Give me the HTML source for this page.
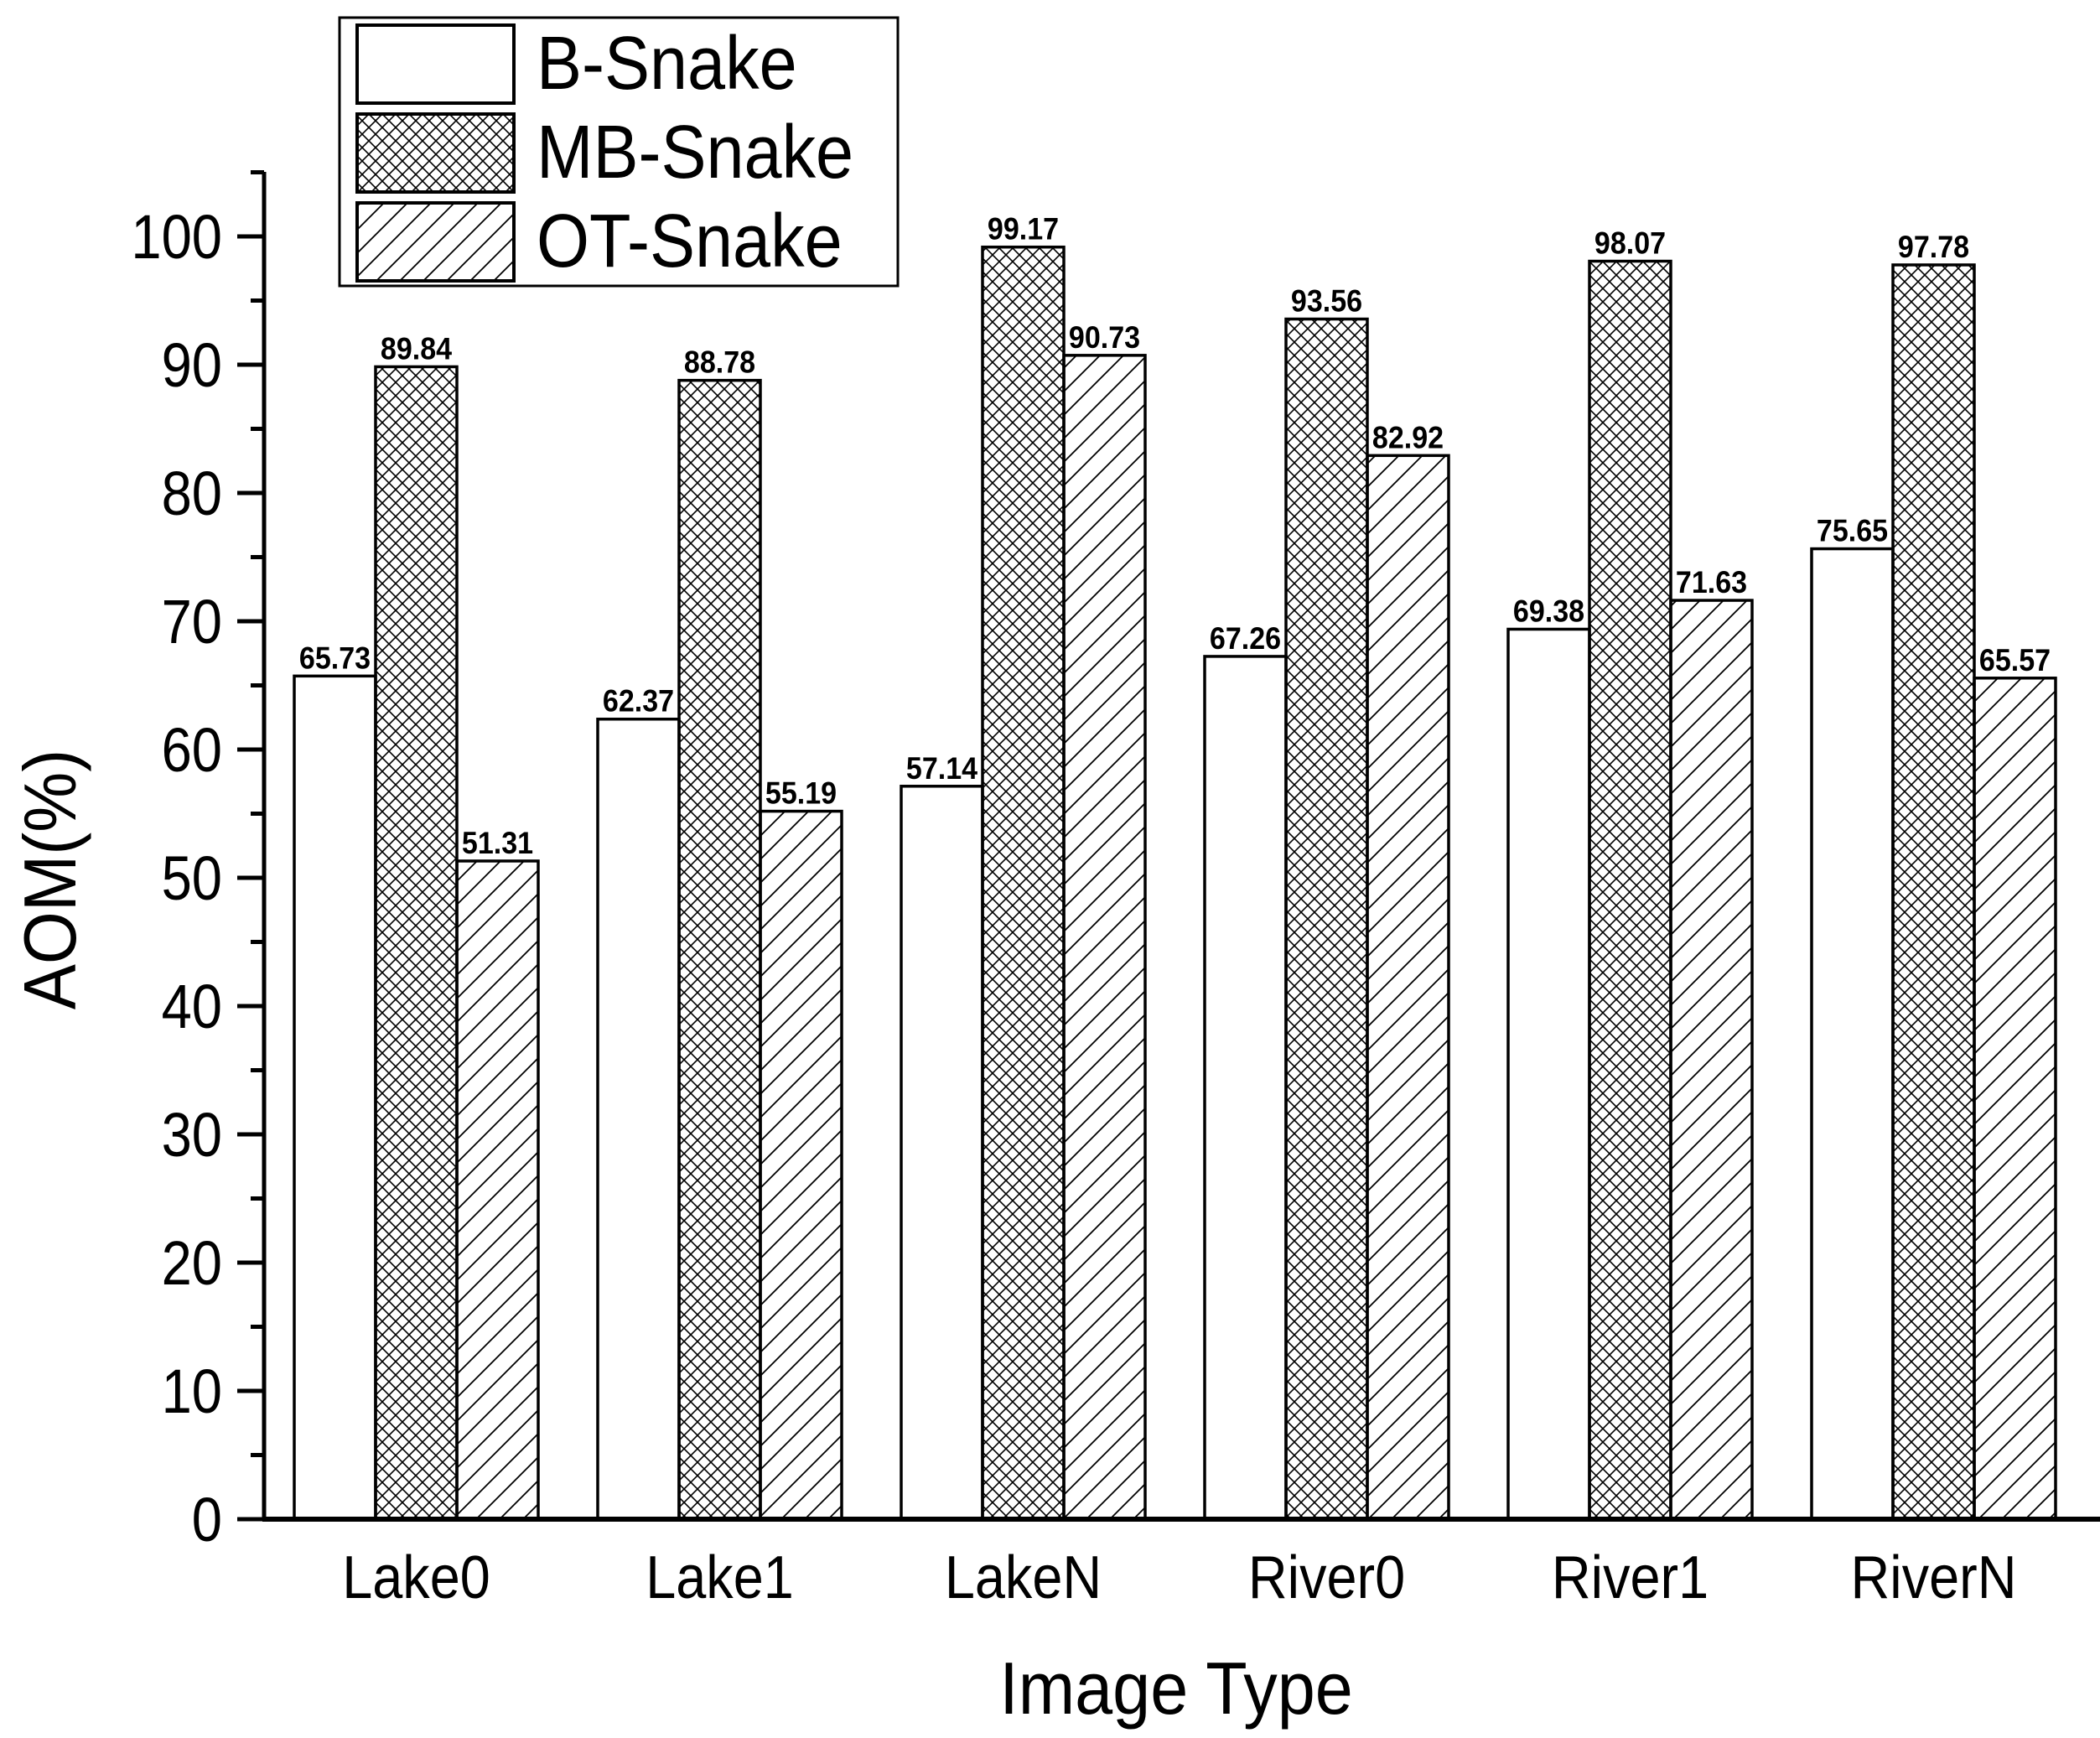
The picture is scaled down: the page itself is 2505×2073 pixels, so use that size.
<!DOCTYPE html>
<html><head><meta charset="utf-8"><style>
html,body{margin:0;padding:0;background:#fff}
svg{display:block;font-family:"Liberation Sans",Arial,sans-serif}
</style></head><body>
<svg id="chart" width="2505" height="2073" viewBox="0 0 2505 2073">
<defs>
<pattern id="cross" patternUnits="userSpaceOnUse" width="16" height="16">
<path d="M0,0 L16,16 M16,0 L0,16" stroke="#000" stroke-width="1.6"/>
</pattern>
<pattern id="diag" patternUnits="userSpaceOnUse" width="28" height="28">
<path d="M-7,7 L7,-7 M0,28 L28,0 M21,35 L35,21" stroke="#000" stroke-width="1.8"/>
</pattern>
</defs>
<g id="plot"></g>
<g>
<rect x="405" y="21" width="666" height="320" fill="#fff" stroke="#000" stroke-width="3"/>
<rect x="426" y="30" width="187" height="93" fill="#fff" stroke="#000" stroke-width="4"/>
<rect x="426" y="136" width="187" height="93" fill="url(#cross)" stroke="#000" stroke-width="4"/>
<rect x="426" y="242" width="187" height="93" fill="url(#diag)" stroke="#000" stroke-width="4"/>
<text transform="translate(640,106) scale(0.9,1)" font-size="90">B-Snake</text>
<text transform="translate(640,212) scale(0.9,1)" font-size="90">MB-Snake</text>
<text transform="translate(640,318) scale(0.9,1)" font-size="90">OT-Snake</text>
</g>
<text transform="translate(1403,2044) scale(0.92,1)" font-size="88" text-anchor="middle">Image Type</text>
<text transform="translate(90,1049) rotate(-90) scale(0.92,1)" font-size="88" text-anchor="middle">AOM(%)</text>
</svg>
<script>
const categories = ["Lake0","Lake1","LakeN","River0","River1","RiverN"];
const bSnake = [65.73,62.37,57.14,67.26,69.38,75.65];
const mbSnake = [89.84,88.78,99.17,93.56,98.07,97.78];
const otSnake = [51.31,55.19,90.73,82.92,71.63,65.57];
const yTicks = [0,10,20,30,40,50,60,70,80,90,100];

const NS = "http://www.w3.org/2000/svg";
const g = document.getElementById("plot");
const X0 = 315, YZERO = 1812, YPER = (1812 - 282) / 100;
const GROUP0 = 496.5, GSTEP = 362, BW = 97;
function y(v){ return YZERO - v * YPER; }
function gx(i){ return GROUP0 + i * GSTEP; }
function mk(tag, attrs){ const e = document.createElementNS(NS, tag); for (const k in attrs) e.setAttribute(k, attrs[k]); g.appendChild(e); return e; }

const series = [
  {vals: bSnake, fill: "#fff", name: "b-snake"},
  {vals: mbSnake, fill: "url(#cross)", name: "mb-snake"},
  {vals: otSnake, fill: "url(#diag)", name: "ot-snake"}
];
categories.forEach((c, i) => {
  series.forEach((s, j) => {
    const v = s.vals[i];
    const left = gx(i) - 1.5 * BW + j * BW;
    const r = mk("rect", {x: left, y: y(v), width: BW, height: YZERO - y(v), fill: s.fill, stroke: "#000", "stroke-width": 3.5});
    
    
    const t = mk("text", {transform: "translate(" + (left + BW / 2) + "," + (y(v) - 9) + ") scale(0.92,1)", "font-size": 37, "font-weight": "bold", "text-anchor": "middle"});
    t.textContent = v.toFixed(2);
    
    
  });
  const cl = mk("text", {transform: "translate(" + gx(i) + ",1906) scale(0.9,1)", "font-size": 72, "text-anchor": "middle"});
  cl.textContent = c;
  
  
});

const ya = mk("line", {x1: X0, y1: 205, x2: X0, y2: YZERO, stroke: "#000", "stroke-width": 5});


const xa = mk("line", {x1: X0 - 2, y1: YZERO, x2: 2505, y2: YZERO, stroke: "#000", "stroke-width": 6});


yTicks.forEach(v => {
  const tk = mk("line", {x1: X0 - 32, y1: y(v), x2: X0, y2: y(v), stroke: "#000", "stroke-width": 5});
  
  
  const tl = mk("text", {transform: "translate(" + (X0 - 50) + "," + (y(v) + 26) + ") scale(0.88,1)", "font-size": 74, "text-anchor": "end"});
  tl.textContent = v;
  
  
  const mv = v + 5;
  if (mv <= 105) {
    const mt = mk("line", {x1: X0 - 16, y1: y(mv), x2: X0, y2: y(mv), stroke: "#000", "stroke-width": 5});
    
    
  }
});
</script>
</body></html>
